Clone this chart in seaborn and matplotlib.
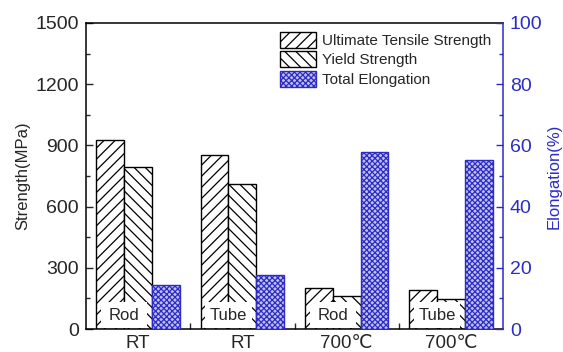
import matplotlib
matplotlib.use("Agg")
import matplotlib.pyplot as plt
from matplotlib.patches import Patch, Rectangle
from matplotlib.ticker import MultipleLocator, FixedLocator
import numpy as np
import pandas as pd
import seaborn as sns

# Tensile test results: rod and tube at room temperature and 700 °C
conditions = ["RT", "RT", "700℃", "700℃"]
forms = ["Rod", "Tube", "Rod", "Tube"]
uts = [926, 854, 202, 192]          # MPa
ys = [792, 709, 160, 147]           # MPa
elongation = [14.5, 17.6, 57.7, 55.1]  # %

metrics = ["Ultimate Tensile Strength", "Yield Strength", "Total Elongation"]
keys = [f"{c} {f}" for c, f in zip(conditions, forms)]

strength_df = pd.DataFrame({
    "sample": keys * 2,
    "metric": [metrics[0]] * 4 + [metrics[1]] * 4,
    "value": uts + ys,
})
elong_df = pd.DataFrame({
    "sample": keys,
    "metric": [metrics[2]] * 4,
    "value": elongation,
})

sns.set_theme(style="ticks")
plt.rcParams["font.family"] = ["Liberation Sans", "DejaVu Sans"]
plt.rcParams["hatch.linewidth"] = 0.9

blue = "#2c2cc4"
fill_blue = "#c0c0f2"

fig = plt.figure(figsize=(5.63, 3.52), dpi=100)
ax = fig.add_axes([0.1528, 0.0653, 0.7406, 0.8694])

palette = {metrics[0]: "white", metrics[1]: "white", metrics[2]: fill_blue}

sns.barplot(data=strength_df, x="sample", y="value", hue="metric",
            hue_order=metrics, order=keys, palette=palette, ax=ax,
            width=0.8, dodge=True, legend=False, saturation=1,
            edgecolor="black", linewidth=1.0)
for cont, hatch in zip(ax.containers, ["///", "\\\\\\"]):
    for bar in cont:
        bar.set_hatch(hatch)
        bar.set_edgecolor("black")

ax2 = ax.twinx()
sns.barplot(data=elong_df, x="sample", y="value", hue="metric",
            hue_order=metrics, order=keys, palette=palette, ax=ax2,
            width=0.8, dodge=True, legend=False, saturation=1,
            edgecolor=blue, linewidth=1.0)
for cont in ax2.containers:
    for bar in cont:
        bar.set_hatch("xxxxxx")
        bar.set_edgecolor(blue)

# White label boxes over the lower part of the strength bars
for i, form in enumerate(forms):
    left = i - 0.4 + 0.045
    right = i + 0.4 / 3 - 0.045
    ax.add_patch(Rectangle((left, 4), right - left, 130, facecolor="white",
                           edgecolor="none", zorder=3))
    ax.text(i - 0.4 / 3, 66, form, ha="center", va="center",
            fontsize=12, zorder=4)

ax.set_xlim(-0.5, 3.5)
ax.set_ylim(0, 1500)
ax2.set_ylim(0, 100)

ax.set_xticks(range(4))
ax.set_xticklabels(conditions, fontsize=13.5)
ax.xaxis.set_minor_locator(FixedLocator([0.5, 1.5, 2.5]))
ax.tick_params(axis="x", which="major", length=0, pad=4)
ax.tick_params(axis="x", which="minor", direction="in", length=4, width=1)

ax.yaxis.set_major_locator(MultipleLocator(300))
ax.yaxis.set_minor_locator(MultipleLocator(150))
ax.tick_params(axis="y", which="major", direction="in", length=5, width=1,
               labelsize=14, pad=5)
ax.tick_params(axis="y", which="minor", direction="in", length=3, width=1)

ax2.yaxis.set_major_locator(MultipleLocator(20))
ax2.yaxis.set_minor_locator(MultipleLocator(10))
ax2.tick_params(axis="y", which="major", direction="in", length=5, width=1,
                labelsize=14, colors=blue, pad=5)
ax2.tick_params(axis="y", which="minor", direction="in", length=3, width=1,
                colors=blue)

ax.set_xlabel("")
ax.set_ylabel("Strength(MPa)", fontsize=12, labelpad=4)
ax2.set_ylabel("Elongation(%)", fontsize=12, color=blue, labelpad=3)

for s in ["left", "bottom", "top"]:
    ax.spines[s].set_color("black")
    ax.spines[s].set_linewidth(1.1)
ax.spines["right"].set_visible(False)
for s in ["left", "bottom", "top"]:
    ax2.spines[s].set_visible(False)
ax2.spines["right"].set_color(blue)
ax2.spines["right"].set_linewidth(1.1)

handles = [
    Patch(facecolor="white", edgecolor="black", hatch="///"),
    Patch(facecolor="white", edgecolor="black", hatch="\\\\\\"),
    Patch(facecolor=fill_blue, edgecolor=blue, hatch="xxxxxx"),
]
ax2.legend(handles, metrics, loc="upper right", bbox_to_anchor=(0.995, 1.0),
           frameon=False, fontsize=11, handlelength=2.4, handleheight=1.2,
           handletextpad=0.4, labelspacing=0.22, borderaxespad=0.2)

fig.savefig("out.png", dpi=100)
